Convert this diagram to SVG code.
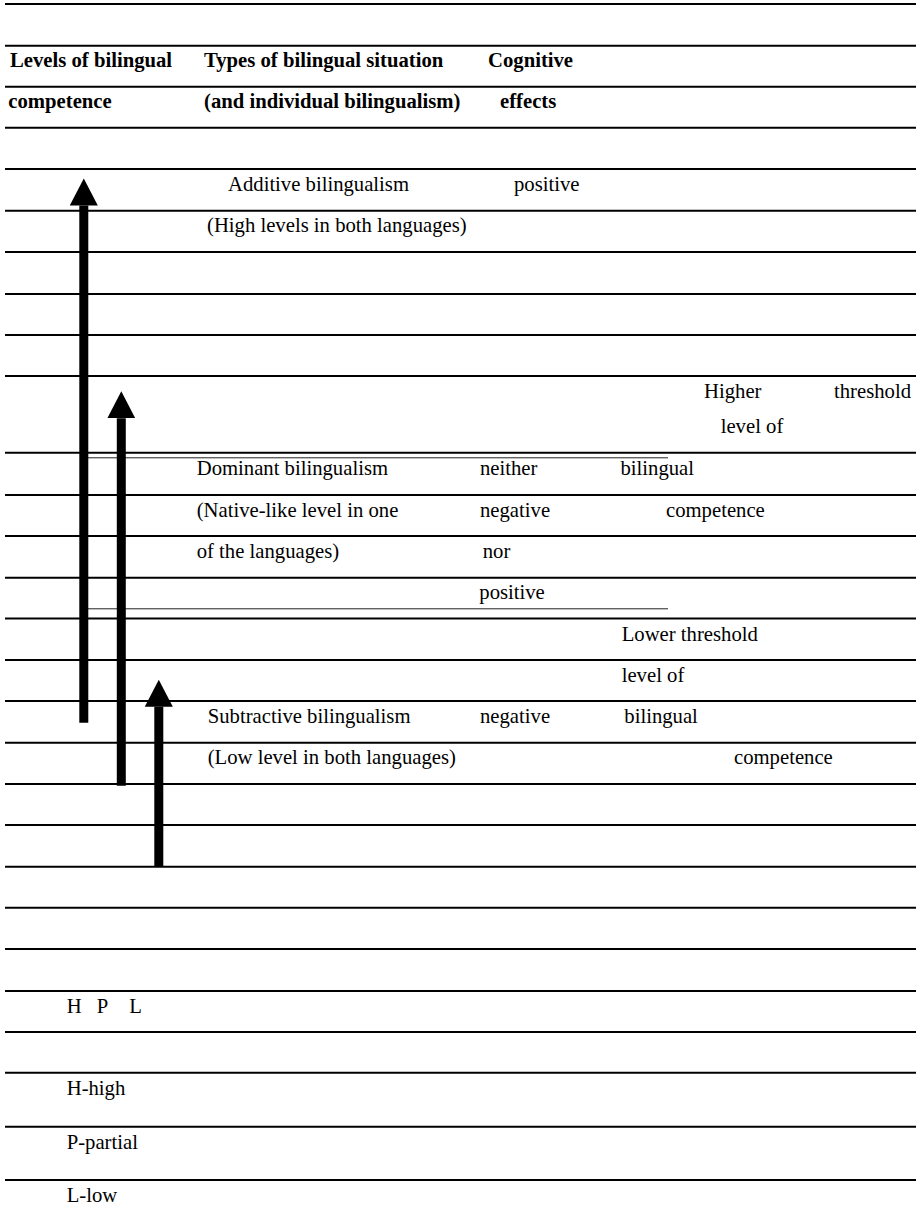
<svg xmlns="http://www.w3.org/2000/svg" width="920" height="1206" viewBox="0 0 920 1206">
  <style>
    .rule { stroke: #000; stroke-width: 2; }
    .thin { stroke: #222; stroke-width: 1; }
    .t { font-family: "Liberation Serif", "Times New Roman", serif; font-size: 20.7px; fill: #000; }
    .b { font-weight: bold; }
    .shaft { stroke: #000; stroke-width: 9; fill: none; }
  </style>
  <defs>
    <marker id="head" markerUnits="userSpaceOnUse" markerWidth="28" markerHeight="28" refX="0" refY="14" orient="auto" viewBox="0 0 28 28">
      <path d="M0,0 L27,14 L0,28 Z" fill="#000"/>
    </marker>
  </defs>
  <rect width="920" height="1206" fill="#fff"/>

  <g id="rules">
    <line class="rule" x1="5" y1="4" x2="916" y2="4"/>
    <line class="rule" x1="5" y1="45.7" x2="916" y2="45.7"/>
    <line class="rule" x1="5" y1="86.7" x2="916" y2="86.7"/>
    <line class="rule" x1="5" y1="127.7" x2="916" y2="127.7"/>
    <line class="rule" x1="5" y1="169" x2="916" y2="169"/>
    <line class="rule" x1="5" y1="210.7" x2="916" y2="210.7"/>
    <line class="rule" x1="5" y1="252" x2="916" y2="252"/>
    <line class="rule" x1="5" y1="294" x2="916" y2="294"/>
    <line class="rule" x1="5" y1="335" x2="916" y2="335"/>
    <line class="rule" x1="5" y1="376" x2="916" y2="376"/>
    <line class="rule" x1="5" y1="452.7" x2="916" y2="452.7"/>
    <line class="thin" x1="88" y1="457.8" x2="668" y2="457.8"/>
    <line class="rule" x1="5" y1="495" x2="916" y2="495"/>
    <line class="rule" x1="5" y1="536" x2="916" y2="536"/>
    <line class="rule" x1="5" y1="577.8" x2="916" y2="577.8"/>
    <line class="thin" x1="88" y1="608.8" x2="668" y2="608.8"/>
    <line class="rule" x1="5" y1="618.5" x2="916" y2="618.5"/>
    <line class="rule" x1="5" y1="660" x2="916" y2="660"/>
    <line class="rule" x1="5" y1="701" x2="916" y2="701"/>
    <line class="rule" x1="5" y1="742.7" x2="916" y2="742.7"/>
    <line class="rule" x1="5" y1="784" x2="916" y2="784"/>
    <line class="rule" x1="5" y1="825" x2="916" y2="825"/>
    <line class="rule" x1="5" y1="866.7" x2="916" y2="866.7"/>
    <line class="rule" x1="5" y1="907.7" x2="916" y2="907.7"/>
    <line class="rule" x1="5" y1="949" x2="916" y2="949"/>
    <line class="rule" x1="5" y1="991" x2="916" y2="991"/>
    <line class="rule" x1="5" y1="1032" x2="916" y2="1032"/>
    <line class="rule" x1="5" y1="1072.7" x2="916" y2="1072.7"/>
    <line class="rule" x1="5" y1="1126.7" x2="916" y2="1126.7"/>
    <line class="rule" x1="5" y1="1180" x2="916" y2="1180"/>
  </g>

  <g id="header">
    <text class="t b" x="10" y="67.3">Levels of bilingual</text>
    <text class="t b" x="204" y="67.3">Types of bilingual situation</text>
    <text class="t b" x="488" y="67.3">Cognitive</text>
    <text class="t b" x="8.3" y="108.3">competence</text>
    <text class="t b" x="204" y="108.3">(and individual bilingualism)</text>
    <text class="t b" x="500" y="108.3">effects</text>
  </g>

  <g id="additive">
    <text class="t" x="228" y="191">Additive bilingualism</text>
    <text class="t" x="514" y="191">positive</text>
    <text class="t" x="207" y="232">(High levels in both languages)</text>
  </g>

  <g id="higher-threshold">
    <text class="t" x="704" y="398.3">Higher</text>
    <text class="t" x="834" y="398.3">threshold</text>
    <text class="t" x="720.7" y="432.7">level of</text>
    <text class="t" x="620.5" y="475">bilingual</text>
    <text class="t" x="666" y="516.7">competence</text>
  </g>

  <g id="dominant">
    <text class="t" x="196.7" y="475">Dominant bilingualism</text>
    <text class="t" x="480" y="475">neither</text>
    <text class="t" x="196.7" y="516.7">(Native-like level in one</text>
    <text class="t" x="480" y="516.7">negative</text>
    <text class="t" x="196.7" y="557.7">of the languages)</text>
    <text class="t" x="482.7" y="557.7">nor</text>
    <text class="t" x="479.3" y="599">positive</text>
  </g>

  <g id="lower-threshold">
    <text class="t" x="621.7" y="640.5">Lower threshold</text>
    <text class="t" x="621.7" y="682">level of</text>
    <text class="t" x="624.3" y="722.5">bilingual</text>
    <text class="t" x="734" y="764">competence</text>
  </g>

  <g id="subtractive">
    <text class="t" x="207.7" y="723">Subtractive bilingualism</text>
    <text class="t" x="480" y="722.5">negative</text>
    <text class="t" x="207.7" y="764">(Low level in both languages)</text>
  </g>

  <g id="legend">
    <text class="t" x="66.7" y="1012.7">H</text>
    <text class="t" x="96.7" y="1012.7">P</text>
    <text class="t" x="129.3" y="1012.7">L</text>
    <text class="t" x="66.7" y="1095">H-high</text>
    <text class="t" x="66.7" y="1148.5">P-partial</text>
    <text class="t" x="66.7" y="1201.7">L-low</text>
  </g>

  <g id="connectors">
    <line class="shaft" x1="83.8" y1="722.7" x2="83.8" y2="205.5" marker-end="url(#head)"/>
    <line class="shaft" x1="121.3" y1="785.7" x2="121.3" y2="418.3" marker-end="url(#head)"/>
    <line class="shaft" x1="158.8" y1="866.7" x2="158.8" y2="706.7" marker-end="url(#head)"/>
  </g>
</svg>
